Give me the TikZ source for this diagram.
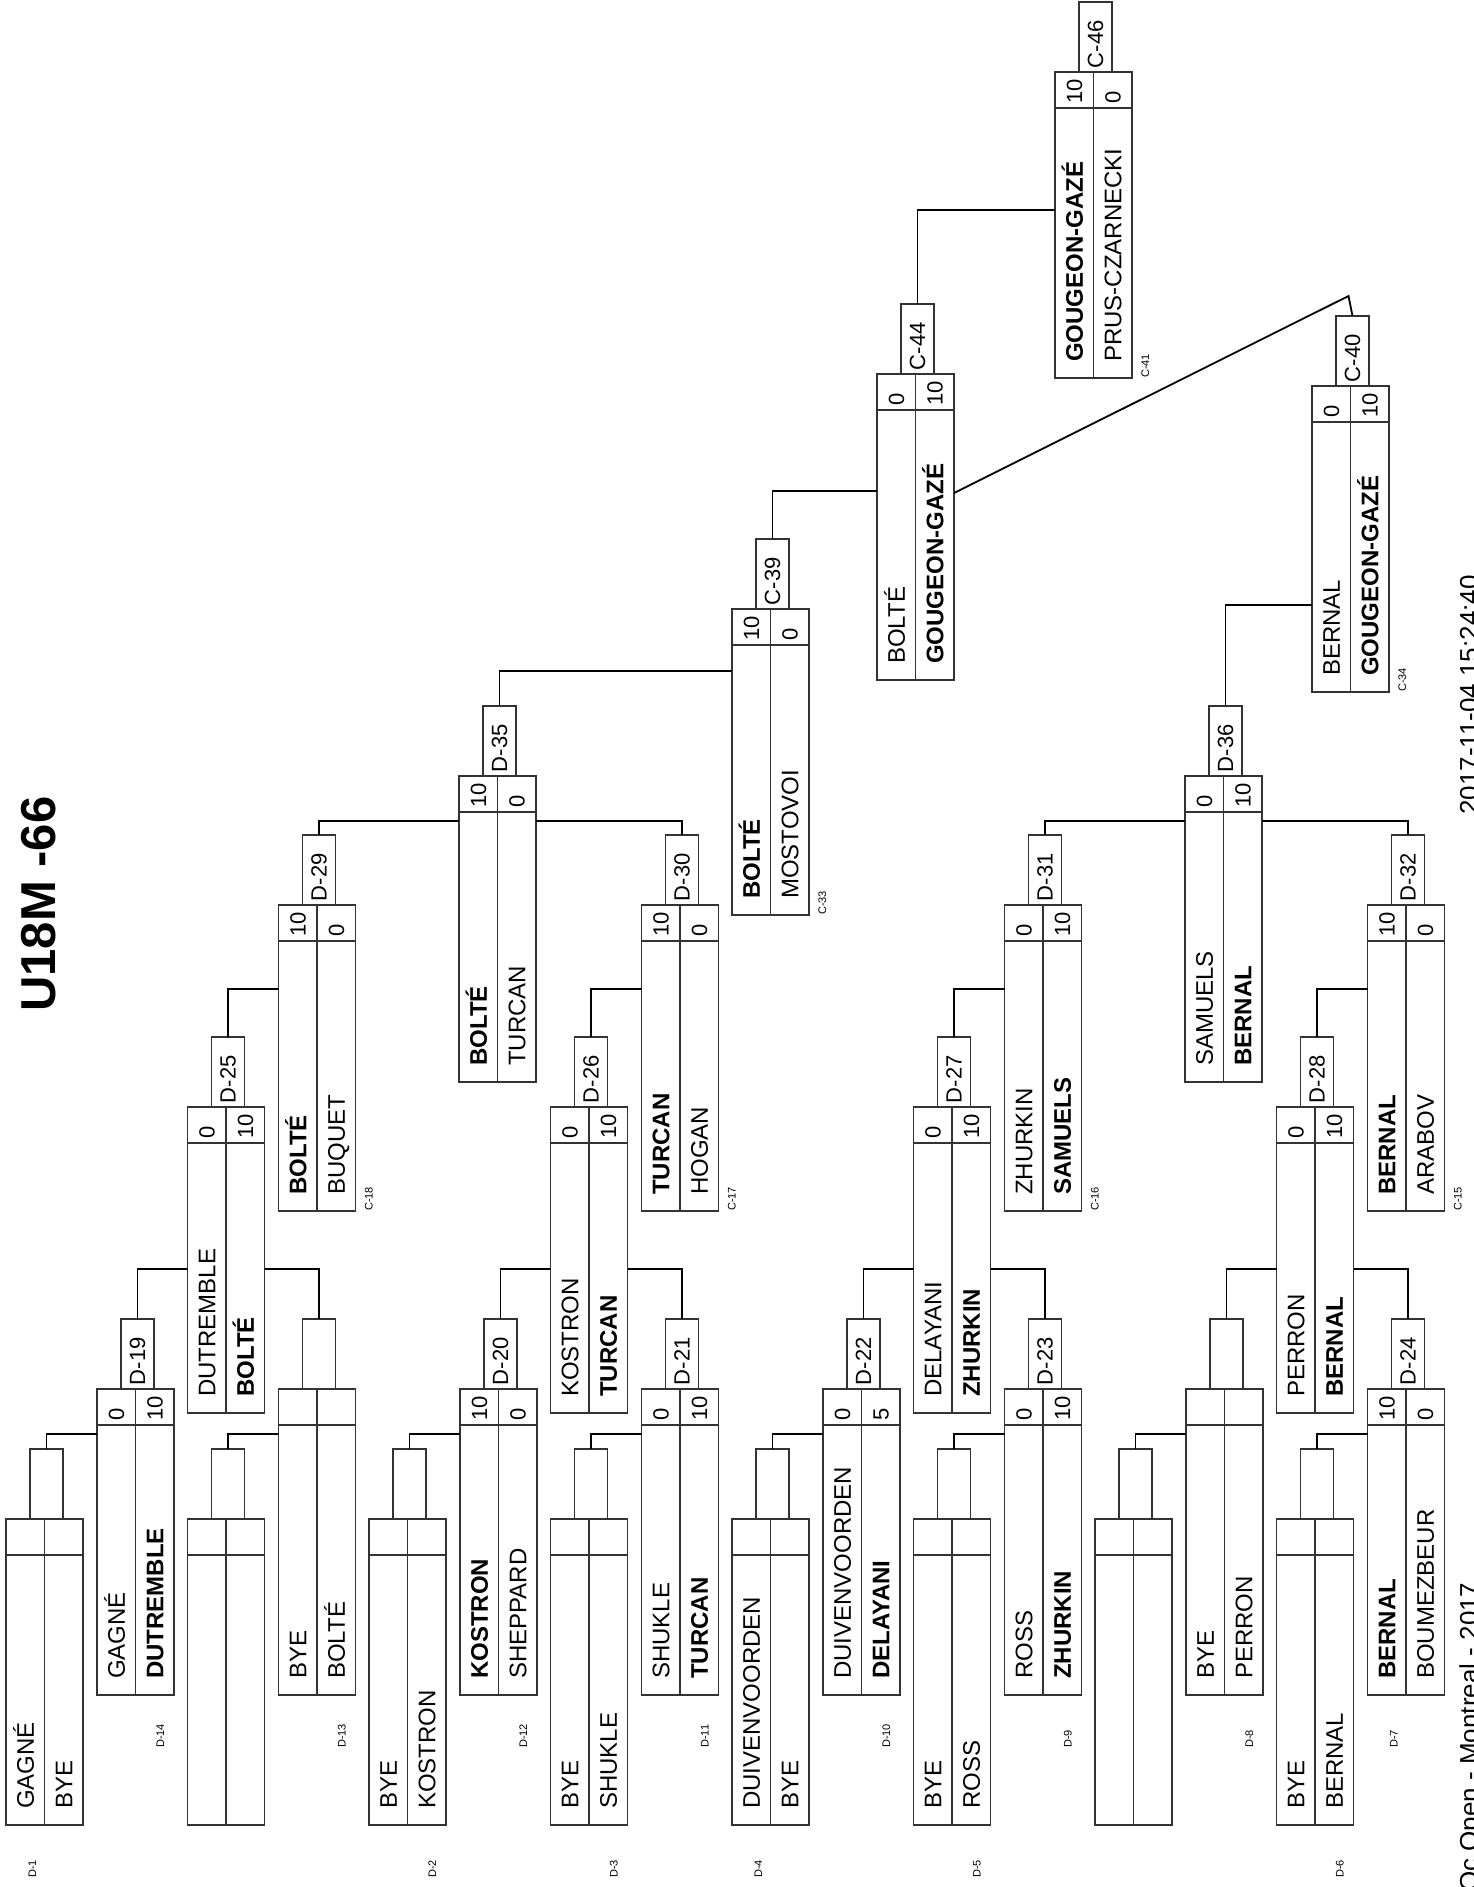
\documentclass[tikz,border=0pt]{standalone}
\usepackage{fontspec}
\setmainfont{Liberation Sans}
\usetikzlibrary{calc}

% one match: name, left x, top y, left player, right player, left score, right score, match number
\newcommand{\matchbox}[8]{%
  \node[box] (#1) at (#2+38.5,#3+153) {};
  \draw[box line] (#1.north) -- (#1.south);
  \draw[box line] ([yshift=-36pt]#1.north west) -- ([yshift=-36pt]#1.north east);
  \node[tab] (#1t) at (#2+40.5,#3-35) {#8};
  \node[player] (#1l) at ([xshift=27.9pt,yshift=16pt]#1.south west) {#4};
  \node[player] (#1r) at ([xshift=66.4pt,yshift=16pt]#1.south west) {#5};
  \node[score] (#1s) at ([xshift=27.2pt,yshift=-32pt]#1.north west) {#6};
  \node[score] (#1u) at ([xshift=65.7pt,yshift=-32pt]#1.north west) {#7};
}

\begin{document}
\begin{tikzpicture}[x=1pt, y=-1pt,
    box/.style={draw=black!80, line width=1.2pt, minimum width=77pt, minimum height=306pt, inner sep=0pt, outer sep=0pt},
    box line/.style={draw=black!80, line width=1.2pt},
    tab/.style={draw=black!80, line width=1.2pt, rotate=90, text width=62pt, inner xsep=4pt, inner ysep=0pt,
      minimum height=33pt, outer sep=0pt, align=left, font=\fontsize{22}{26}\selectfont},
    player/.style={rotate=90, anchor=base west, inner sep=0pt, font=\fontsize{24}{28}\selectfont},
    score/.style={rotate=90, anchor=base west, inner sep=0pt, font=\fontsize{22}{26}\selectfont},
    small label/.style={rotate=90, anchor=base west, inner sep=0pt, font=\fontsize{11}{13}\selectfont},
    heading/.style={rotate=90, anchor=base west, inner sep=0pt, font=\fontsize{49}{55}\selectfont\bfseries},
    footer/.style={rotate=90, anchor=base west, inner sep=0pt, font=\fontsize{26}{30}\selectfont},
    conn/.style={line width=1.1pt},
    diag/.style={line width=1.8pt}
  ]
  \useasboundingbox (0,0) rectangle (1474,1887);
  \clip (0,0) rectangle (1474,1887);

  % title
  \node[heading] (title) at (55,1012) {U18M -66};

  % first round
  \matchbox{A1}{6}{1519}{GAGNÉ}{BYE}{}{}{}
  \matchbox{A2}{187.5}{1519}{}{}{}{}{}
  \matchbox{A3}{369}{1519}{BYE}{KOSTRON}{}{}{}
  \matchbox{A4}{550.5}{1519}{BYE}{SHUKLE}{}{}{}
  \matchbox{A5}{732}{1519}{DUIVENVOORDEN}{BYE}{}{}{}
  \matchbox{A6}{913.5}{1519}{BYE}{ROSS}{}{}{}
  \matchbox{A7}{1095}{1519}{}{}{}{}{}
  \matchbox{A8}{1276.5}{1519}{BYE}{BERNAL}{}{}{}

  % second round
  \matchbox{B1}{97}{1389}{GAGNÉ}{\textbf{DUTREMBLE}}{0}{10}{D-19}
  \matchbox{B2}{278.5}{1389}{BYE}{BOLTÉ}{}{}{}
  \matchbox{B3}{460}{1389}{\textbf{KOSTRON}}{SHEPPARD}{10}{0}{D-20}
  \matchbox{B4}{641.5}{1389}{SHUKLE}{\textbf{TURCAN}}{0}{10}{D-21}
  \matchbox{B5}{823}{1389}{DUIVENVOORDEN}{\textbf{DELAYANI}}{0}{5}{D-22}
  \matchbox{B6}{1004.5}{1389}{ROSS}{\textbf{ZHURKIN}}{0}{10}{D-23}
  \matchbox{B7}{1186}{1389}{BYE}{PERRON}{}{}{}
  \matchbox{B8}{1367.5}{1389}{\textbf{BERNAL}}{BOUMEZBEUR}{10}{0}{D-24}

  % third round
  \matchbox{C1}{187.5}{1107}{DUTREMBLE}{\textbf{BOLTÉ}}{0}{10}{D-25}
  \matchbox{C2}{550.5}{1107}{KOSTRON}{\textbf{TURCAN}}{0}{10}{D-26}
  \matchbox{C3}{913.5}{1107}{DELAYANI}{\textbf{ZHURKIN}}{0}{10}{D-27}
  \matchbox{C4}{1276.5}{1107}{PERRON}{\textbf{BERNAL}}{0}{10}{D-28}

  % fourth round
  \matchbox{D1}{278.5}{905}{\textbf{BOLTÉ}}{BUQUET}{10}{0}{D-29}
  \matchbox{D2}{641.5}{905}{\textbf{TURCAN}}{HOGAN}{10}{0}{D-30}
  \matchbox{D3}{1004.5}{905}{ZHURKIN}{\textbf{SAMUELS}}{0}{10}{D-31}
  \matchbox{D4}{1367.5}{905}{\textbf{BERNAL}}{ARABOV}{10}{0}{D-32}

  % fifth round
  \matchbox{E1}{459}{776}{\textbf{BOLTÉ}}{TURCAN}{10}{0}{D-35}
  \matchbox{E2}{1185}{776}{SAMUELS}{\textbf{BERNAL}}{0}{10}{D-36}

  % bronze and final
  \matchbox{F1}{732}{609}{\textbf{BOLTÉ}}{MOSTOVOI}{10}{0}{C-39}
  \matchbox{F2}{1312}{386}{BERNAL}{\textbf{GOUGEON-GAZÉ}}{0}{10}{C-40}
  \matchbox{G1}{877}{374}{BOLTÉ}{\textbf{GOUGEON-GAZÉ}}{0}{10}{C-44}
  \matchbox{H1}{1055}{72}{\textbf{GOUGEON-GAZÉ}}{PRUS-CZARNECKI}{10}{0}{C-46}

  % draw references
  \node[small label] (lA1) at ([xshift=30pt,yshift=-53pt]A1.south west) {D-1};
  \node[small label] (lA3) at ([xshift=67pt,yshift=-53pt]A3.south west) {D-2};
  \node[small label] (lA4) at ([xshift=67pt,yshift=-53pt]A4.south west) {D-3};
  \node[small label] (lA5) at ([xshift=30pt,yshift=-53pt]A5.south west) {D-4};
  \node[small label] (lA6) at ([xshift=67pt,yshift=-53pt]A6.south west) {D-5};
  \node[small label] (lA8) at ([xshift=67pt,yshift=-53pt]A8.south west) {D-6};
  \node[small label] (lB1) at ([xshift=67pt,yshift=-53pt]B1.south west) {D-14};
  \node[small label] (lB2) at ([xshift=67pt,yshift=-53pt]B2.south west) {D-13};
  \node[small label] (lB3) at ([xshift=67pt,yshift=-53pt]B3.south west) {D-12};
  \node[small label] (lB4) at ([xshift=67pt,yshift=-53pt]B4.south west) {D-11};
  \node[small label] (lB5) at ([xshift=67pt,yshift=-53pt]B5.south west) {D-10};
  \node[small label] (lB6) at ([xshift=67pt,yshift=-53pt]B6.south west) {D-9};
  \node[small label] (lB7) at ([xshift=67pt,yshift=-53pt]B7.south west) {D-8};
  \node[small label] (lB8) at ([xshift=30pt,yshift=-53pt]B8.south west) {D-7};
  \node[small label] (lD1) at ([xshift=17pt]D1.south east) {C-18};
  \node[small label] (lD2) at ([xshift=17pt]D2.south east) {C-17};
  \node[small label] (lD3) at ([xshift=17pt]D3.south east) {C-16};
  \node[small label] (lD4) at ([xshift=17pt]D4.south east) {C-15};
  \node[small label] (lF1) at ([xshift=17pt]F1.south east) {C-33};
  \node[small label] (lF2) at ([xshift=17pt]F2.south east) {C-34};
  \node[small label] (lH1) at ([xshift=17pt]H1.south east) {C-41};

  % connectors
  \foreach \k in {1,...,8}
    \draw[conn] (A\k t.east) |- ([yshift=-45pt]B\k.north west);
  \foreach \k/\c in {1/1,3/2,5/3,7/4}
    \draw[conn] (B\k t.east) |- ([yshift=-162pt]C\c.north west);
  \foreach \k/\c in {2/1,4/2,6/3,8/4}
    \draw[conn] (B\k t.east) |- ([yshift=-162pt]C\c.north east);
  \foreach \k in {1,...,4}
    \draw[conn] (C\k t.east) |- ([yshift=-84pt]D\k.north west);
  \draw[conn] (D1t.east) |- ([yshift=-45pt]E1.north west);
  \draw[conn] (D2t.east) |- ([yshift=-45pt]E1.north east);
  \draw[conn] (D3t.east) |- ([yshift=-45pt]E2.north west);
  \draw[conn] (D4t.east) |- ([yshift=-45pt]E2.north east);
  \draw[conn] (E1t.east) |- ([yshift=-62pt]F1.north west);
  \draw[conn] (E2t.east) |- ([yshift=-219pt]F2.north west);
  \draw[conn] (F1t.east) |- ([yshift=-117pt]G1.north west);
  \draw[conn] (G1t.east) |- ([yshift=-138pt]H1.north west);
  \draw[diag] (F2t.east) -- ++(-4,-20) -- ([yshift=-119pt]G1.north east);

  % footer
  \node[footer] (stamp) at (1478,815) {2017-11-04 15:24:40};
  \node[footer] (event) at (1478,1892) {Qc Open - Montreal - 2017};
\end{tikzpicture}
\end{document}
